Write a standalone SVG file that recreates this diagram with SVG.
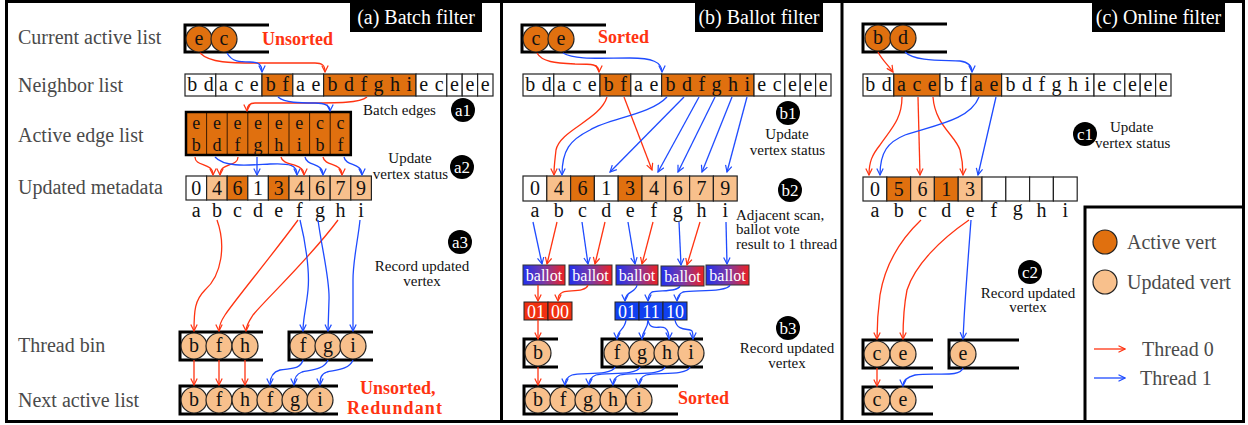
<svg xmlns="http://www.w3.org/2000/svg" width="1248" height="425" viewBox="0 0 1248 425">
<style>
text{font-family:"Liberation Serif","Times New Roman",serif;}
.lbl{font-size:20px;fill:#4a4a4a;}
.t{font-size:20px;fill:#111;text-anchor:middle;}
.te{font-size:18px;fill:#111;text-anchor:middle;}
.nl{font-size:20px;fill:#111;text-anchor:middle;word-spacing:1.5px;}
.sm{font-size:15px;fill:#111;text-anchor:middle;}
.sml{font-size:15px;fill:#111;}
.ttl{font-size:20px;fill:#fff;text-anchor:middle;}
.rd{font-size:18px;font-weight:bold;fill:#FF3311;}
.bdg{font-size:17px;fill:#fff;text-anchor:middle;}
.bal{font-size:16px;fill:#fff;text-anchor:middle;}
.bit{font-size:18px;fill:#fff;text-anchor:middle;}
.cr{fill:none;stroke:#FF3311;stroke-width:1.3;marker-end:url(#ar);}
.cb{fill:none;stroke:#1E4BFF;stroke-width:1.3;marker-end:url(#ab);}
.dk{fill:#E0700F;stroke:#222;stroke-width:1.2;}
.lt{fill:#F8C08C;stroke:#222;stroke-width:1.2;}
.wh{fill:#fff;stroke:#222;stroke-width:1.2;}
.bk{fill:none;stroke:#000;stroke-width:3;}
.sep{stroke:#3a1a00;stroke-width:1;}
</style>
<defs>
<marker id="ar" viewBox="0 0 8 8" refX="7" refY="4" markerWidth="8" markerHeight="8" markerUnits="userSpaceOnUse" orient="auto"><path d="M0.5,0.8 L7,4 L0.5,7.2" fill="none" stroke="#FF3311" stroke-width="1.2"/></marker>
<marker id="ab" viewBox="0 0 8 8" refX="7" refY="4" markerWidth="8" markerHeight="8" markerUnits="userSpaceOnUse" orient="auto"><path d="M0.5,0.8 L7,4 L0.5,7.2" fill="none" stroke="#1E4BFF" stroke-width="1.2"/></marker>
<linearGradient id="bg" x1="0" y1="0" x2="1" y2="0"><stop offset="0" stop-color="#2030EE"/><stop offset="0.5" stop-color="#7A3AA8"/><stop offset="1" stop-color="#F02020"/></linearGradient>
</defs>
<rect x="0" y="0" width="1248" height="425" fill="#fff"/>
<g id="frame">
<rect x="6.5" y="1.5" width="1237" height="420" fill="none" stroke="#000" stroke-width="3"/>
<line x1="501.5" y1="1.5" x2="501.5" y2="421.5" stroke="#000" stroke-width="3"/>
<line x1="842" y1="1.5" x2="842" y2="421.5" stroke="#000" stroke-width="3"/>
</g>
<g id="titles">
<rect x="350" y="2" width="132" height="30" fill="#000"/><text class="ttl" x="416" y="24">(a) Batch filter</text>
<rect x="695" y="2" width="128" height="30" fill="#000"/><text class="ttl" x="759" y="24">(b) Ballot filter</text>
<rect x="1092" y="2" width="133" height="30" fill="#000"/><text class="ttl" x="1158.5" y="24">(c) Online filter</text>
</g>
<g id="row-labels">
<text class="lbl" x="18" y="44">Current active list</text>
<text class="lbl" x="18" y="92">Neighbor list</text>
<text class="lbl" x="18" y="142">Active edge list</text>
<text class="lbl" x="18" y="194">Updated metadata</text>
<text class="lbl" x="18" y="352">Thread bin</text>
<text class="lbl" x="18" y="407">Next active list</text>
</g>

<!-- ================= Panel A ================= -->
<g id="a-current">
<path class="bk" d="M269,25 L185,25 L185,52 L269,52"/>
<circle class="dk" cx="199" cy="39" r="13"/><text class="t" x="199" y="45">e</text>
<circle class="dk" cx="224" cy="39" r="13"/><text class="t" x="224" y="45">c</text>
<text class="rd" x="262" y="45">Unsorted</text>
</g>
<g id="a-neighbor">
<rect class="wh" x="185" y="74" width="30.8" height="22"/>
<rect class="wh" x="215.8" y="74" width="46.2" height="22"/>
<rect class="dk" x="262" y="74" width="30.8" height="22"/>
<rect class="wh" x="292.8" y="74" width="30.8" height="22"/>
<rect class="dk" x="323.6" y="74" width="92.4" height="22"/>
<rect class="wh" x="416" y="74" width="30.8" height="22"/>
<rect class="wh" x="446.8" y="74" width="15.4" height="22"/>
<rect class="wh" x="462.2" y="74" width="15.4" height="22"/>
<rect class="wh" x="477.6" y="74" width="15.4" height="22"/>
<text class="nl" x="200.4" y="91">b d</text>
<text class="nl" x="238.9" y="91">a c e</text>
<text class="nl" x="277.4" y="91">b f</text>
<text class="nl" x="308.2" y="91">a e</text>
<text class="nl" x="369.8" y="91">b d f g h i</text>
<text class="nl" x="431.4" y="91">e c</text>
<text class="nl" x="454.5" y="91">e</text>
<text class="nl" x="469.9" y="91">e</text>
<text class="nl" x="485.3" y="91">e</text>
</g>
<g id="a-edges">
<rect x="186" y="112" width="164.8" height="43" fill="#E0700F"/>
<line class="sep" x1="206.6" y1="112" x2="206.6" y2="155"/>
<line class="sep" x1="227.2" y1="112" x2="227.2" y2="155"/>
<line class="sep" x1="247.8" y1="112" x2="247.8" y2="155"/>
<line class="sep" x1="268.4" y1="112" x2="268.4" y2="155"/>
<line class="sep" x1="289" y1="112" x2="289" y2="155"/>
<line class="sep" x1="309.6" y1="112" x2="309.6" y2="155"/>
<line class="sep" x1="330.2" y1="112" x2="330.2" y2="155"/>
<rect x="186" y="112" width="164.8" height="43" fill="none" stroke="#000" stroke-width="2.5"/>
<text class="te" x="196.3" y="129">e</text><text class="te" x="196.3" y="151">b</text>
<text class="te" x="216.9" y="129">e</text><text class="te" x="216.9" y="151">d</text>
<text class="te" x="237.5" y="129">e</text><text class="te" x="237.5" y="151">f</text>
<text class="te" x="258.1" y="129">e</text><text class="te" x="258.1" y="151">g</text>
<text class="te" x="278.7" y="129">e</text><text class="te" x="278.7" y="151">h</text>
<text class="te" x="299.3" y="129">e</text><text class="te" x="299.3" y="151">i</text>
<text class="te" x="319.9" y="129">c</text><text class="te" x="319.9" y="151">b</text>
<text class="te" x="340.5" y="129">c</text><text class="te" x="340.5" y="151">f</text>
</g>
<g id="a-meta">
<rect class="wh" x="186" y="176" width="20.6" height="24"/>
<rect class="lt" x="206.6" y="176" width="20.6" height="24"/>
<rect class="dk" x="227.2" y="176" width="20.6" height="24"/>
<rect class="wh" x="247.8" y="176" width="20.6" height="24"/>
<rect class="dk" x="268.4" y="176" width="20.6" height="24"/>
<rect class="lt" x="289" y="176" width="20.6" height="24"/>
<rect class="lt" x="309.6" y="176" width="20.6" height="24"/>
<rect class="lt" x="330.2" y="176" width="20.6" height="24"/>
<rect class="lt" x="350.8" y="176" width="20.6" height="24"/>
<text class="t" x="196.3" y="195">0</text><text class="t" x="216.9" y="195">4</text><text class="t" x="237.5" y="195">6</text>
<text class="t" x="258.1" y="195">1</text><text class="t" x="278.7" y="195">3</text><text class="t" x="299.3" y="195">4</text>
<text class="t" x="319.9" y="195">6</text><text class="t" x="340.5" y="195">7</text><text class="t" x="361.1" y="195">9</text>
<text class="t" x="196.3" y="217">a</text><text class="t" x="216.9" y="217">b</text><text class="t" x="237.5" y="217">c</text>
<text class="t" x="258.1" y="217">d</text><text class="t" x="278.7" y="217">e</text><text class="t" x="299.3" y="217">f</text>
<text class="t" x="319.9" y="217">g</text><text class="t" x="340.5" y="217">h</text><text class="t" x="361.1" y="217">i</text>
</g>
<g id="a-bin0">
<path class="bk" d="M263,332 L180,332 L180,360 L263,360"/>
<circle class="lt" cx="194" cy="346" r="13"/><text class="t" x="194" y="352">b</text>
<circle class="lt" cx="219" cy="346" r="13"/><text class="t" x="219" y="352">f</text>
<circle class="lt" cx="245" cy="346" r="13"/><text class="t" x="245" y="352">h</text>
</g>
<g id="a-bin1">
<path class="bk" d="M373,332 L289,332 L289,360 L373,360"/>
<circle class="lt" cx="303" cy="346" r="13"/><text class="t" x="303" y="352">f</text>
<circle class="lt" cx="328" cy="346" r="13"/><text class="t" x="328" y="352">g</text>
<circle class="lt" cx="353" cy="346" r="13"/><text class="t" x="353" y="352">i</text>
</g>
<g id="a-next">
<path class="bk" d="M338,386 L180,386 L180,414 L338,414"/>
<circle class="lt" cx="194" cy="400" r="13"/><text class="t" x="194" y="406">b</text>
<circle class="lt" cx="219" cy="400" r="13"/><text class="t" x="219" y="406">f</text>
<circle class="lt" cx="245" cy="400" r="13"/><text class="t" x="245" y="406">h</text>
<circle class="lt" cx="270" cy="400" r="13"/><text class="t" x="270" y="406">f</text>
<circle class="lt" cx="295" cy="400" r="13"/><text class="t" x="295" y="406">g</text>
<circle class="lt" cx="320" cy="400" r="13"/><text class="t" x="320" y="406">i</text>
<text class="rd" x="360" y="394">Unsorted,</text>
<text class="rd" x="347" y="414" textLength="95">Redundant</text>
</g>
<g id="a-steps">
<text class="sml" x="363" y="115">Batch edges</text>
<circle cx="463" cy="110" r="12" fill="#000"/><text class="bdg" x="463" y="116">a1</text>
<text class="sm" x="410" y="163">Update</text>
<text class="sm" x="410.5" y="179">vertex status</text>
<circle cx="462" cy="167" r="12" fill="#000"/><text class="bdg" x="462" y="173">a2</text>
<circle cx="460" cy="242" r="12" fill="#000"/><text class="bdg" x="460" y="248">a3</text>
<text class="sm" x="422" y="271">Record updated</text>
<text class="sm" x="422" y="286">vertex</text>
</g>

<!-- ================= Panel B ================= -->
<g id="b-current">
<path class="bk" d="M606,25 L522,25 L522,52 L606,52"/>
<circle class="dk" cx="536" cy="39" r="13"/><text class="t" x="536" y="45">c</text>
<circle class="dk" cx="561" cy="39" r="13"/><text class="t" x="561" y="45">e</text>
<text class="rd" x="598" y="43">Sorted</text>
</g>
<g id="b-neighbor">
<rect class="wh" x="523" y="74" width="30.8" height="22"/>
<rect class="wh" x="553.8" y="74" width="46.2" height="22"/>
<rect class="dk" x="600" y="74" width="30.8" height="22"/>
<rect class="wh" x="630.8" y="74" width="30.8" height="22"/>
<rect class="dk" x="661.6" y="74" width="92.4" height="22"/>
<rect class="wh" x="754" y="74" width="30.8" height="22"/>
<rect class="wh" x="784.8" y="74" width="15.4" height="22"/>
<rect class="wh" x="800.2" y="74" width="15.4" height="22"/>
<rect class="wh" x="815.6" y="74" width="15.4" height="22"/>
<text class="nl" x="538.4" y="91">b d</text>
<text class="nl" x="576.9" y="91">a c e</text>
<text class="nl" x="615.4" y="91">b f</text>
<text class="nl" x="646.2" y="91">a e</text>
<text class="nl" x="707.8" y="91">b d f g h i</text>
<text class="nl" x="769.4" y="91">e c</text>
<text class="nl" x="792.5" y="91">e</text>
<text class="nl" x="807.9" y="91">e</text>
<text class="nl" x="823.3" y="91">e</text>
</g>
<g id="b-meta">
<rect class="wh" x="523" y="176" width="23.8" height="25"/>
<rect class="lt" x="546.8" y="176" width="23.8" height="25"/>
<rect class="dk" x="570.6" y="176" width="23.8" height="25"/>
<rect class="wh" x="594.4" y="176" width="23.8" height="25"/>
<rect class="dk" x="618.2" y="176" width="23.8" height="25"/>
<rect class="lt" x="642" y="176" width="23.8" height="25"/>
<rect class="lt" x="665.8" y="176" width="23.8" height="25"/>
<rect class="lt" x="689.6" y="176" width="23.8" height="25"/>
<rect class="lt" x="713.4" y="176" width="23.8" height="25"/>
<text class="t" x="534.9" y="195">0</text><text class="t" x="558.7" y="195">4</text><text class="t" x="582.5" y="195">6</text>
<text class="t" x="606.3" y="195">1</text><text class="t" x="630.1" y="195">3</text><text class="t" x="653.9" y="195">4</text>
<text class="t" x="677.7" y="195">6</text><text class="t" x="701.5" y="195">7</text><text class="t" x="725.3" y="195">9</text>
<text class="t" x="534.9" y="217">a</text><text class="t" x="558.7" y="217">b</text><text class="t" x="582.5" y="217">c</text>
<text class="t" x="606.3" y="217">d</text><text class="t" x="630.1" y="217">e</text><text class="t" x="653.9" y="217">f</text>
<text class="t" x="677.7" y="217">g</text><text class="t" x="701.5" y="217">h</text><text class="t" x="725.3" y="217">i</text>
</g>
<g id="b-ballots">
<rect x="523" y="265" width="42" height="20" fill="url(#bg)" stroke="#333" stroke-width="1"/><text class="bal" x="544" y="281">ballot</text>
<rect x="569" y="265" width="43" height="20" fill="url(#bg)" stroke="#333" stroke-width="1"/><text class="bal" x="590.5" y="281">ballot</text>
<rect x="616" y="265" width="42" height="20" fill="url(#bg)" stroke="#333" stroke-width="1"/><text class="bal" x="637" y="281">ballot</text>
<rect x="661" y="266" width="43" height="20" fill="url(#bg)" stroke="#333" stroke-width="1"/><text class="bal" x="682.5" y="282">ballot</text>
<rect x="706" y="265" width="43" height="20" fill="url(#bg)" stroke="#333" stroke-width="1"/><text class="bal" x="727.5" y="281">ballot</text>
</g>
<g id="b-bits0">
<rect x="524" y="302" width="24" height="18" fill="#F03010" stroke="#222" stroke-width="1"/>
<rect x="548" y="302" width="24" height="18" fill="#F03010" stroke="#222" stroke-width="1"/>
<text class="bit" x="536" y="318">01</text><text class="bit" x="560" y="318">00</text>
</g>
<g id="b-bits1">
<rect x="615" y="302" width="24" height="18" fill="#1040F0" stroke="#222" stroke-width="1"/>
<rect x="639" y="302" width="24" height="18" fill="#1040F0" stroke="#222" stroke-width="1"/>
<rect x="663" y="302" width="24" height="18" fill="#1040F0" stroke="#222" stroke-width="1"/>
<text class="bit" x="627" y="318">01</text><text class="bit" x="651" y="318">11</text><text class="bit" x="675" y="318">10</text>
</g>
<g id="b-bin0">
<path class="bk" d="M558,339 L524,339 L524,367 L558,367"/>
<circle class="lt" cx="538" cy="353" r="13"/><text class="t" x="538" y="359">b</text>
</g>
<g id="b-bin1">
<path class="bk" d="M703,339 L602,339 L602,367 L703,367"/>
<circle class="lt" cx="617" cy="353" r="13"/><text class="t" x="617" y="359">f</text>
<circle class="lt" cx="642" cy="353" r="13"/><text class="t" x="642" y="359">g</text>
<circle class="lt" cx="667" cy="353" r="13"/><text class="t" x="667" y="359">h</text>
<circle class="lt" cx="691" cy="353" r="13"/><text class="t" x="691" y="359">i</text>
</g>
<g id="b-next">
<path class="bk" d="M678,386 L524,386 L524,414 L678,414"/>
<circle class="lt" cx="538" cy="400" r="13"/><text class="t" x="538" y="406">b</text>
<circle class="lt" cx="563" cy="400" r="13"/><text class="t" x="563" y="406">f</text>
<circle class="lt" cx="588" cy="400" r="13"/><text class="t" x="588" y="406">g</text>
<circle class="lt" cx="613" cy="400" r="13"/><text class="t" x="613" y="406">h</text>
<circle class="lt" cx="639" cy="400" r="13"/><text class="t" x="639" y="406">i</text>
<text class="rd" x="678" y="404">Sorted</text>
</g>
<g id="b-steps">
<circle cx="788" cy="113" r="12" fill="#000"/><text class="bdg" x="788" y="119">b1</text>
<text class="sm" x="787" y="139">Update</text>
<text class="sm" x="787.5" y="155">vertex status</text>
<circle cx="790" cy="190" r="12" fill="#000"/><text class="bdg" x="790" y="196">b2</text>
<text class="sml" x="736" y="220">Adjacent scan,</text>
<text class="sml" x="736" y="234">ballot vote</text>
<text class="sml" x="736" y="249">result to 1 thread</text>
<circle cx="788" cy="328" r="12" fill="#000"/><text class="bdg" x="788" y="334">b3</text>
<text class="sm" x="787" y="353">Record updated</text>
<text class="sm" x="787" y="368">vertex</text>
</g>

<!-- ================= Panel C ================= -->
<g id="c-current">
<path class="bk" d="M947,24 L863,24 L863,52 L947,52"/>
<circle class="dk" cx="878" cy="38" r="13"/><text class="t" x="878" y="44">b</text>
<circle class="dk" cx="903" cy="38" r="13"/><text class="t" x="903" y="44">d</text>
</g>
<g id="c-neighbor">
<rect class="wh" x="863" y="74" width="30.8" height="22"/>
<rect class="dk" x="893.8" y="74" width="46.2" height="22"/>
<rect class="wh" x="940" y="74" width="30.8" height="22"/>
<rect class="dk" x="970.8" y="74" width="30.8" height="22"/>
<rect class="wh" x="1001.6" y="74" width="92.4" height="22"/>
<rect class="wh" x="1094" y="74" width="30.8" height="22"/>
<rect class="wh" x="1124.8" y="74" width="15.4" height="22"/>
<rect class="wh" x="1140.2" y="74" width="15.4" height="22"/>
<rect class="wh" x="1155.6" y="74" width="15.4" height="22"/>
<text class="nl" x="878.4" y="91">b d</text>
<text class="nl" x="916.9" y="91">a c e</text>
<text class="nl" x="955.4" y="91">b f</text>
<text class="nl" x="986.2" y="91">a e</text>
<text class="nl" x="1047.8" y="91">b d f g h i</text>
<text class="nl" x="1109.4" y="91">e c</text>
<text class="nl" x="1132.5" y="91">e</text>
<text class="nl" x="1147.9" y="91">e</text>
<text class="nl" x="1163.3" y="91">e</text>
</g>
<g id="c-meta">
<rect class="wh" x="863" y="177" width="23.8" height="24"/>
<rect class="dk" x="886.8" y="177" width="23.8" height="24"/>
<rect class="lt" x="910.6" y="177" width="23.8" height="24"/>
<rect class="dk" x="934.4" y="177" width="23.8" height="24"/>
<rect class="lt" x="958.2" y="177" width="23.8" height="24"/>
<rect class="wh" x="982" y="177" width="23.8" height="24"/>
<rect class="wh" x="1005.8" y="177" width="23.8" height="24"/>
<rect class="wh" x="1029.6" y="177" width="23.8" height="24"/>
<rect class="wh" x="1053.4" y="177" width="23.8" height="24"/>
<text class="t" x="874.9" y="196">0</text><text class="t" x="898.7" y="196">5</text><text class="t" x="922.5" y="196">6</text>
<text class="t" x="946.3" y="196">1</text><text class="t" x="970.1" y="196">3</text>
<text class="t" x="874.9" y="217">a</text><text class="t" x="898.7" y="217">b</text><text class="t" x="922.5" y="217">c</text>
<text class="t" x="946.3" y="217">d</text><text class="t" x="970.1" y="217">e</text><text class="t" x="993.9" y="217">f</text>
<text class="t" x="1017.7" y="215">g</text><text class="t" x="1041.5" y="217">h</text><text class="t" x="1065.3" y="217">i</text>
</g>
<g id="c-bin0">
<path class="bk" d="M933,340 L863,340 L863,368 L933,368"/>
<circle class="lt" cx="877" cy="354" r="13"/><text class="t" x="877" y="360">c</text>
<circle class="lt" cx="903" cy="354" r="13"/><text class="t" x="903" y="360">e</text>
</g>
<g id="c-bin1">
<path class="bk" d="M1019,340 L949,340 L949,368 L1019,368"/>
<circle class="lt" cx="963" cy="354" r="13"/><text class="t" x="963" y="360">e</text>
</g>
<g id="c-next">
<path class="bk" d="M933,387 L863,387 L863,414 L933,414"/>
<circle class="lt" cx="877" cy="400" r="13"/><text class="t" x="877" y="406">c</text>
<circle class="lt" cx="903" cy="400" r="13"/><text class="t" x="903" y="406">e</text>
</g>
<g id="c-steps">
<circle cx="1085" cy="134" r="12" fill="#000"/><text class="bdg" x="1085" y="140">c1</text>
<text class="sml" x="1110" y="132">Update</text>
<text class="sml" x="1095" y="148">vertex status</text>
<circle cx="1030" cy="272" r="12" fill="#000"/><text class="bdg" x="1030" y="278">c2</text>
<text class="sm" x="1028" y="298">Record updated</text>
<text class="sm" x="1028" y="312">vertex</text>
</g>
<g id="legend">
<path d="M1085,421 L1085,207 L1244,207" fill="none" stroke="#000" stroke-width="3"/>
<circle class="dk" cx="1105" cy="242" r="12"/>
<text class="lbl" x="1127" y="249">Active vert</text>
<circle class="lt" cx="1105" cy="282" r="12"/>
<text class="lbl" x="1127" y="289">Updated vert</text>
<line class="cr" x1="1094" y1="349" x2="1125" y2="349"/>
<text class="lbl" x="1142" y="356">Thread 0</text>
<line class="cb" x1="1094" y1="378" x2="1125" y2="378"/>
<text class="lbl" x="1140" y="385">Thread 1</text>
</g>

<g id="connectors">
<path class="cr" d="M200,53 C210,63 230,63 260,63 L315,63 C322,63 325,65 325,72"/>
<path class="cb" d="M227,53 C232,62 240,62 250,62 C258,62 262,64 262,72"/>
<path class="cr" d="M367,97 C360,103 340,103 300,103 L255,103 C250,103 247,105 247,111"/>
<path class="cb" d="M278,97 C285,103 300,103 315,103 C325,103 330,105 330,111"/>
<path class="cr" d="M195,157 C195,167 213,162 213,175"/>
<path class="cr" d="M238,157 C238,167 220,162 220,175"/>
<path class="cb" d="M215,157 C225,168 250,165 270,164 C290,163 297,165 297,175"/>
<path class="cb" d="M257,157 L257,175"/>
<path class="cr" d="M281,157 C283,167 304,162 304,175"/>
<path class="cb" d="M305,157 C307,167 323,162 323,175"/>
<path class="cr" d="M323,157 C325,167 342,162 342,175"/>
<path class="cb" d="M344,157 C346,167 362,162 362,175"/>
<path class="cr" d="M217,220 C226,245 222,275 205,290 C195,300 194,310 194,331"/>
<path class="cr" d="M298,220 C270,258 235,300 225,315 C221,321 219,325 219,331"/>
<path class="cr" d="M338,220 C310,258 265,300 253,315 C249,321 246,325 246,331"/>
<path class="cb" d="M300,220 C305,240 310,270 308,290 C306,310 303,318 303,331"/>
<path class="cb" d="M318,220 C322,250 330,280 329,300 L328,331"/>
<path class="cb" d="M360,220 C358,240 353,260 353,280 L353,331"/>
<path class="cr" d="M194,360 L194,385"/>
<path class="cr" d="M219,360 L219,385"/>
<path class="cr" d="M245,360 L245,385"/>
<path class="cb" d="M303,360 C300,370 290,368 280,370 C272,372 270,378 270,385"/>
<path class="cb" d="M328,360 C324,370 310,370 302,372 C296,374 294,378 294,385"/>
<path class="cb" d="M353,360 C349,370 335,370 327,372 C321,374 320,378 320,385"/>
<path class="cr" d="M537,53 C542,62 555,63 575,64 C592,64 599,64 599,72"/>
<path class="cb" d="M563,53 C575,60 600,58 630,58 C652,58 662,62 662,72"/>
<path class="cr" d="M607,97 C600,120 560,130 556,150 C555,160 554,165 554,175"/>
<path class="cr" d="M624,97 L652,170"/>
<path class="cb" d="M667,97 C650,115 610,118 590,130 C570,140 562,150 562,175"/>
<path class="cb" d="M684,97 L610,172"/>
<path class="cb" d="M699,97 L658,172"/>
<path class="cb" d="M715,97 L678,172"/>
<path class="cb" d="M732,97 L702,172"/>
<path class="cb" d="M747,97 L727,172"/>
<path class="cb" d="M533,222 L542,264"/>
<path class="cr" d="M557,222 L547,264"/>
<path class="cb" d="M582,222 L588,264"/>
<path class="cr" d="M605,222 L595,264"/>
<path class="cb" d="M628,222 L635,264"/>
<path class="cr" d="M653,222 L642,264"/>
<path class="cb" d="M679,222 L681,265"/>
<path class="cr" d="M700,222 L687,265"/>
<path class="cb" d="M726,222 L727,264"/>
<path class="cr" d="M538,285 L538,301"/>
<path class="cr" d="M588,285 C586,292 570,290 563,292 C559,294 558,296 558,301"/>
<path class="cb" d="M637,285 C636,293 625,291 625,301"/>
<path class="cb" d="M680,286 C678,292 660,290 652,292 C649,294 648,296 648,301"/>
<path class="cb" d="M730,285 C728,292 695,290 683,292 C679,294 677,296 677,301"/>
<path class="cr" d="M538,320 L538,339"/>
<path class="cb" d="M626,320 C625,330 617,330 617,339"/>
<path class="cb" d="M648,320 C648,330 642,330 642,339"/>
<path class="cb" d="M648,320 C650,332 660,325 665,328 C668,330 669,334 669,339"/>
<path class="cb" d="M675,320 C677,332 690,328 692,331 C693,333 693,335 693,339"/>
<path class="cr" d="M538,367 L538,385"/>
<path class="cb" d="M615,367 C612,376 580,372 572,375 C567,377 565,380 565,385"/>
<path class="cb" d="M640,367 C637,376 605,372 596,375 C591,377 589,380 589,385"/>
<path class="cb" d="M665,367 C662,376 630,372 620,375 C615,377 613,380 613,385"/>
<path class="cb" d="M690,367 C687,376 655,372 646,375 C641,377 639,380 639,385"/>
<path class="cr" d="M878,52 C882,60 889,66 893,72"/>
<path class="cb" d="M905,52 C915,62 945,60 960,61 C968,62 972,66 972,72"/>
<path class="cr" d="M902,97 C902,120 890,130 880,145 C872,155 869,162 869,175"/>
<path class="cr" d="M918,97 L920,175"/>
<path class="cr" d="M933,97 C935,125 955,135 960,150 C962,158 963,165 963,175"/>
<path class="cb" d="M979,97 C970,120 935,125 905,135 C888,142 880,152 880,175"/>
<path class="cb" d="M996,97 L978,175"/>
<path class="cr" d="M921,220 C900,240 885,265 880,295 C878,310 877,320 877,339"/>
<path class="cr" d="M969,220 C940,240 915,265 907,290 C904,305 903,320 903,339"/>
<path class="cb" d="M971,220 C968,260 965,300 964,320 L963,339"/>
<path class="cr" d="M877,368 L877,386"/>
<path class="cb" d="M963,368 C960,378 935,372 915,375 C907,377 903,380 903,386"/>
</g>
</svg>
